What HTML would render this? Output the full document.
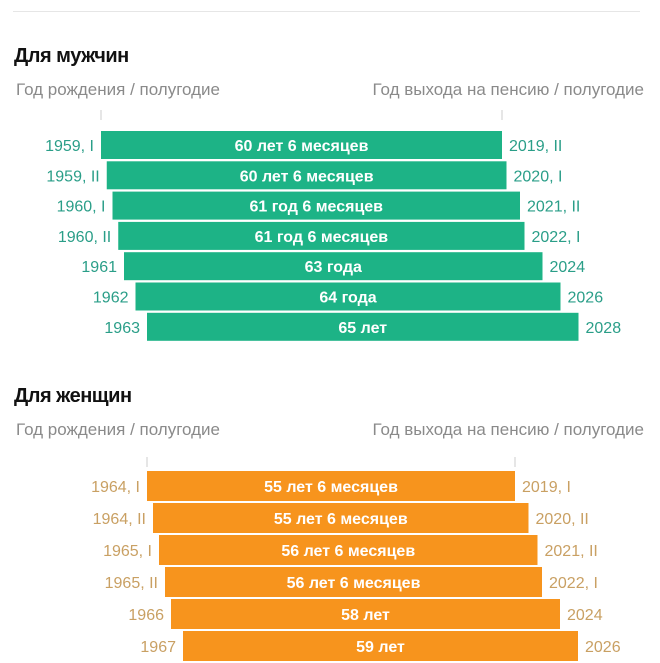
<!DOCTYPE html>
<html><head><meta charset="utf-8"><style>
body{margin:0;background:#fff;width:660px;height:663px;overflow:hidden;position:relative;font-family:"Liberation Sans","Noto Sans CJK SC",sans-serif}
.h{position:absolute;left:14px;font-size:20px;font-weight:bold;color:#111;letter-spacing:-0.5px}
.s{position:absolute;font-size:17px;color:#8a8a8a}
</style></head><body>
<div style="position:absolute;left:13px;top:11px;width:627px;height:1px;background:#e6e6e6"></div>
<div class="h" style="top:45px">Для мужчин</div>
<div class="s" style="left:16px;top:80px">Год рождения / полугодие</div>
<div class="s" style="right:16px;top:80px">Год выхода на пенсию / полугодие</div>
<div class="h" style="top:385px">Для женщин</div>
<div class="s" style="left:16px;top:420px">Год рождения / полугодие</div>
<div class="s" style="right:16px;top:420px">Год выхода на пенсию / полугодие</div>
<svg id="chart" width="660" height="663" style="position:absolute;left:0;top:0" font-family="Liberation Sans, sans-serif"></svg>
<script>
const menBirth=[1959,1959.5,1960,1960.5,1961,1962,1963];
const menBirthLabels=["1959, I","1959, II","1960, I","1960, II","1961","1962","1963"];
const menRetire=[2019.5,2020,2021.5,2022,2024,2026,2028];
const menRetireLabels=["2019, II","2020, I","2021, II","2022, I","2024","2026","2028"];
const menAge=["60 лет 6 месяцев","60 лет 6 месяцев","61 год 6 месяцев","61 год 6 месяцев","63 года","64 года","65 лет"];
const womenBirth=[1964,1964.5,1965,1965.5,1966,1967,1968];
const womenBirthLabels=["1964, I","1964, II","1965, I","1965, II","1966","1967","1968"];
const womenRetire=[2019,2020.5,2021.5,2022,2024,2026,2028];
const womenRetireLabels=["2019, I","2020, II","2021, II","2022, I","2024","2026","2028"];
const womenAge=["55 лет 6 месяцев","55 лет 6 месяцев","56 лет 6 месяцев","56 лет 6 месяцев","58 лет","59 лет","60 лет"];
const svg=document.getElementById('chart');
const NS='http://www.w3.org/2000/svg';
function mk(t,a){const e=document.createElementNS(NS,t);for(const k in a)e.setAttribute(k,a[k]);svg.appendChild(e);return e;}
function section(birth,bl,retire,rl,age,opt){
  const xL=b=>opt.l0+(b-birth[0])*opt.ls;
  const xR=r=>opt.r0+(r-retire[0])*opt.rs;
  let t=mk('line',{x1:xL(birth[0]),x2:xL(birth[0]),y1:opt.tick,y2:opt.tick+10,stroke:'#ccc'});
  
  
  t=mk('line',{x1:xR(retire[0]),x2:xR(retire[0]),y1:opt.tick,y2:opt.tick+10,stroke:'#ccc'});
  
  
  for(let i=0;i<birth.length;i++){
    const y=opt.y0+i*opt.pitch, x1=xL(birth[i]), x2=xR(retire[i]);
    const r=mk('rect',{x:x1,y:y,width:x2-x1,height:opt.h,fill:opt.color});
    
    
    const cy=y+opt.h/2+6;
    const a=mk('text',{x:(x1+x2)/2,y:cy,'text-anchor':'middle',fill:'#fff','font-size':16,'font-weight':'bold'});
    a.textContent=age[i];
    
    
    const l=mk('text',{x:x1-7,y:cy,'text-anchor':'end',fill:opt.tc,'font-size':16});
    l.textContent=bl[i];
    
    
    const rr=mk('text',{x:x2+7,y:cy,fill:opt.tc,'font-size':16});
    rr.textContent=rl[i];
    
    
  }
}
section(menBirth,menBirthLabels,menRetire,menRetireLabels,menAge,{p:'men',l0:101,ls:11.5,r0:502,rs:9,y0:131,pitch:30.3,h:28,tick:110,color:'#1db386',tc:'#2a9e88'});
section(womenBirth,womenBirthLabels,womenRetire,womenRetireLabels,womenAge,{p:'women',l0:147,ls:12,r0:515,rs:9,y0:471,pitch:32,h:30,tick:457,color:'#f7941d',tc:'#c9a063'});
</script>
</body></html>
